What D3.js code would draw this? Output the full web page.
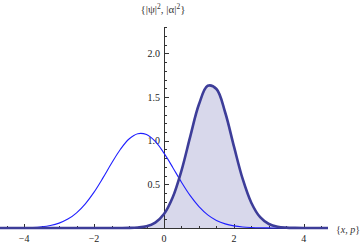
<!DOCTYPE html>
<html><head><meta charset="utf-8">
<script src="https://cdn.jsdelivr.net/npm/d3@7"></script>
<style>
html,body{margin:0;padding:0;background:#fff;}
svg{display:block;}
svg text{font-family:"Liberation Serif","DejaVu Serif",serif;}
</style></head><body>
<svg id="c" width="360" height="244"></svg>
<script>
const xValues = [-4.69,-4.5,-4.25,-4,-3.75,-3.5,-3.25,-3,-2.75,-2.5,-2.25,-2,-1.75,-1.5,-1.25,-1,-0.75,-0.5,-0.25,0,0.25,0.5,0.75,1,1.25,1.5,1.75,2,2.25,2.5,2.75,3,3.25,3.5,3.75,4,4.25,4.5,4.69];
const psiSquared = [0,0.0004,0.001,0.003,0.006,0.014,0.029,0.056,0.102,0.174,0.277,0.411,0.571,0.741,0.899,1.019,1.080,1.070,0.991,0.857,0.694,0.524,0.370,0.245,0.151,0.087,0.047,0.024,0.011,0.005,0.002,0.001,0,0,0,0,0,0,0];
const alphaSquared = [0,0,0,0,0,0,0,0,0,0,0,0,0,0,0,0.001,0.006,0.020,0.062,0.160,0.352,0.658,1.047,1.417,1.629,1.592,1.323,0.935,0.562,0.287,0.124,0.046,0.014,0.004,0.001,0,0,0,0];
const xMajorTicks = [-4,-2,0,2,4];
const xTickLabels = ["\u22124","\u22122","0","2","4"];
const yMajorTicks = [0.5,1.0,1.5,2.0];
const yTickLabels = ["0.5","1.0","1.5","2.0"];

const svg = d3.select("#c");
const x = d3.scaleLinear().domain([-4.69,4.69]).range([0,328]);
const y = d3.scaleLinear().domain([0,2.3]).range([228,27.2]);

const pts1 = xValues.map((v,i)=>[v,psiSquared[i]]);
const pts2 = xValues.map((v,i)=>[v,alphaSquared[i]]);

// filling
const area = d3.area().x(d=>x(d[0])).y0(y(0)).y1(d=>y(d[1])).curve(d3.curveCatmullRom);
svg.append("path").attr("d",area(pts2)).attr("fill","#d8d8eb");

const axisColor="#333";
// x axis
const xMinor = d3.range(-4.5,4.51,0.5);
svg.append("line").attr("x1",x(-4.69)).attr("x2",x(4.69)).attr("y1",228.5).attr("y2",228.5).attr("stroke",axisColor).attr("stroke-width",1);
svg.selectAll(".xt").data(xMinor).enter().append("line")
  .attr("x1",d=>Math.round(x(d))+0.5).attr("x2",d=>Math.round(x(d))+0.5)
  .attr("y1",228).attr("y2",d=>Math.abs(d%2)<1e-9?224:226)
  .attr("stroke",axisColor).attr("stroke-width",1);
svg.selectAll(".xl").data(xMajorTicks).enter().append("text")
  .attr("x",d=>x(d)).attr("y",242).attr("text-anchor","middle")
  .attr("font-size",10).attr("fill","#222").text((d,i)=>xTickLabels[i]);

// y axis
const yMinor = d3.range(0.1,2.31,0.1);
svg.append("line").attr("x1",164.5).attr("x2",164.5).attr("y1",y(2.3)).attr("y2",228.5).attr("stroke",axisColor).attr("stroke-width",1);
svg.selectAll(".yt").data(yMinor).enter().append("line")
  .attr("y1",d=>Math.round(y(d))+0.5).attr("y2",d=>Math.round(y(d))+0.5)
  .attr("x1",164).attr("x2",d=>Math.abs((d*10)%5)<1e-6||Math.abs((d*10)%5-5)<1e-6?169:167)
  .attr("stroke",axisColor).attr("stroke-width",1);
svg.selectAll(".yl").data(yMajorTicks).enter().append("text")
  .attr("x",160).attr("y",d=>y(d)).attr("dy","0.35em").attr("text-anchor","end")
  .attr("font-size",10).attr("fill","#222").text((d,i)=>yTickLabels[i]);

// curves
const line = d3.line().x(d=>x(d[0])).y(d=>y(d[1])).curve(d3.curveCatmullRom);
svg.append("path").attr("d",line(pts1)).attr("fill","none").attr("stroke","#1f1fff").attr("stroke-width",1.1);
svg.append("path").attr("d",line(pts2)).attr("fill","none").attr("stroke","#3d3d99").attr("stroke-width",2.6);

// axis labels
const yl = svg.append("text").attr("x",163).attr("y",13).attr("text-anchor","middle").attr("font-size",11).attr("fill","#333");
yl.append("tspan").text("{|\u03c8|");
yl.append("tspan").attr("dy",-4).attr("font-size",7.5).text("2");
yl.append("tspan").attr("dy",4).text(", |\u03b1|");
yl.append("tspan").attr("dy",-4).attr("font-size",7.5).text("2");
yl.append("tspan").attr("dy",4).text("}");

const xl = svg.append("text").attr("x",336).attr("y",233).attr("font-size",10).attr("fill","#333");
xl.append("tspan").text("{");
xl.append("tspan").attr("font-style","italic").text("x");
xl.append("tspan").text(", ");
xl.append("tspan").attr("font-style","italic").text("p");
xl.append("tspan").text("}");
</script>
</body></html>
